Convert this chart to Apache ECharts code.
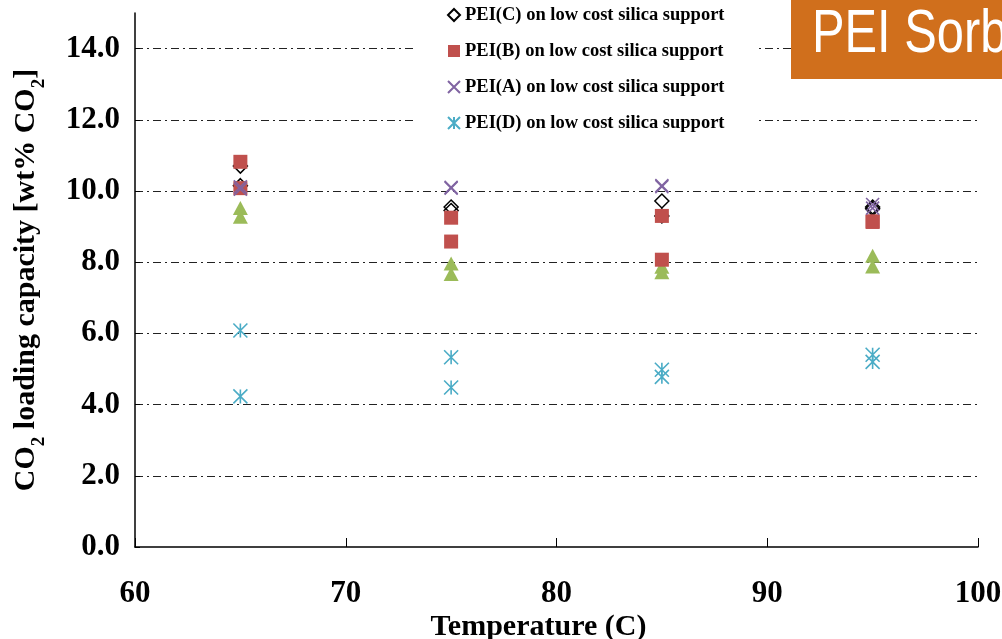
<!DOCTYPE html>
<html>
<head>
<meta charset="utf-8">
<script src="https://cdn.jsdelivr.net/npm/echarts@6/dist/echarts.min.js"></script>
<style>
html, body { margin: 0; padding: 0; background: #fff; }
#chart { width: 1002px; height: 639px; }
</style>
</head>
<body>
<div id="chart"></div>
<script>
// temperatures (C), two runs per temperature
var temps = [65, 65, 75, 75, 85, 85, 95, 95];

// CO2 loading capacity [wt% CO2]
var peiC = [10.7, 10.15, 9.55, 9.45, 9.72, 9.3, 9.55, 9.5];
var peiB = [10.82, 10.08, 9.25, 8.58, 9.3, 8.07, 9.15, 9.13];
var peiA = [10.12, 10.05, 10.1, 10.08, 10.15, 10.12, 9.62, 9.52];
var peiD = [6.08, 4.23, 5.33, 4.48, 4.98, 4.78, 5.4, 5.2];
var other = [9.52, 9.28, 7.96, 7.67, 7.87, 7.72, 8.18, 7.88];

var legendNames = [
    'PEI(C) on low cost silica support',
    'PEI(B) on low cost silica support',
    'PEI(A) on low cost silica support',
    'PEI(D) on low cost silica support'
];

var serif = '"Liberation Serif", "Times New Roman", serif';

function pairs(vals) {
    return vals.map(function (v, i) { return [temps[i], v]; });
}

var myChart = echarts.init(document.getElementById('chart'));

var option = {
    backgroundColor: '#fff',
    animation: false,
    grid: { left: 135, right: 24, top: 13, bottom: 92, outerBoundsMode: 'none' },
    legend: {
        data: legendNames,
        orient: 'vertical',
        left: 414,
        top: 0,
        padding: [5, 34, 10, 33],
        backgroundColor: '#fff',
        itemWidth: 12,
        itemHeight: 12,
        itemGap: 16,
        textStyle: { fontFamily: serif, fontWeight: 'bold', fontSize: 18.5, lineHeight: 20, color: '#000' }
    },
    xAxis: {
        type: 'value',
        min: 60,
        max: 100,
        interval: 10,
        name: 'Temperature (C)',
        nameLocation: 'middle',
        nameGap: 65,
        nameMoveOverlap: false,
        nameTextStyle: { fontFamily: serif, fontWeight: 'bold', fontSize: 30, color: '#000', padding: [0, 36, 0, 0] },
        axisLine: { lineStyle: { color: '#000', width: 1.5 } },
        axisTick: { inside: true, length: 9, lineStyle: { color: '#000' } },
        axisLabel: { fontFamily: serif, fontWeight: 'bold', fontSize: 31, color: '#000', margin: 31 },
        splitLine: { show: false }
    },
    yAxis: {
        type: 'value',
        min: 0,
        max: 15,
        interval: 2,
        name: '{n|CO}{s|2}{n| loading capacity [wt% CO}{s|2}{n|]}',
        nameLocation: 'middle',
        nameGap: 86,
        nameRotate: 90,
        nameMoveOverlap: false,
        nameTextStyle: {
            rich: {
                n: { fontFamily: serif, fontWeight: 'bold', fontSize: 30, color: '#000', lineHeight: 32, verticalAlign: 'top' },
                s: { fontFamily: serif, fontWeight: 'bold', fontSize: 19, color: '#000', lineHeight: 38, verticalAlign: 'bottom' }
            }
        },
        axisLine: { show: true, lineStyle: { color: '#000', width: 1.5 } },
        axisTick: { show: true, inside: true, length: 5, lineStyle: { color: '#000' } },
        axisLabel: {
            fontFamily: serif, fontWeight: 'bold', fontSize: 31, color: '#000', margin: 15,
            showMaxLabel: false,
            formatter: function (v) { return v % 2 === 0 ? v.toFixed(1) : ''; }
        },
        splitLine: {
            show: true,
            showMinLine: false,
            showMaxLine: false,
            lineStyle: { color: '#222', width: 1, type: [8, 4, 2, 4] }
        }
    },
    series: [{
        name: 'PEI(E)',
        type: 'scatter',
        data: pairs(other),
        symbol: 'triangle',
        symbolSize: [15, 14],
        itemStyle: { color: '#9BBB59', opacity: 1 }
    }, {
        name: legendNames[0],
        type: 'scatter',
        data: pairs(peiC),
        symbol: 'diamond',
        symbolSize: 14,
        itemStyle: { color: 'rgba(0,0,0,0)', borderColor: '#000', borderWidth: 1.5, opacity: 1 }
    }, {
        name: legendNames[1],
        type: 'scatter',
        data: pairs(peiB),
        symbol: 'rect',
        symbolSize: 14,
        itemStyle: { color: '#C0504D', opacity: 1 }
    }, {
        name: legendNames[2],
        type: 'scatter',
        data: pairs(peiA),
        symbol: 'path://M0,0L10,10M10,0L0,10',
        symbolSize: 13,
        itemStyle: { color: 'rgba(0,0,0,0)', borderColor: '#8064A2', borderWidth: 1.6, opacity: 1 }
    }, {
        name: legendNames[3],
        type: 'scatter',
        data: pairs(peiD),
        symbol: 'path://M0,0L10,10M10,0L0,10M5,0L5,10',
        symbolSize: 14,
        itemStyle: { color: 'rgba(0,0,0,0)', borderColor: '#4BACC6', borderWidth: 1.6, opacity: 1 }
    }],
    graphic: [{
        type: 'rect',
        left: 791,
        top: 0,
        z: 100,
        shape: { width: 211, height: 79 },
        style: { fill: '#D06F1C' }
    }, {
        type: 'text',
        x: 812,
        y: 5,
        scaleX: 0.8,
        z: 101,
        style: {
            text: 'PEI Sorbent',
            fill: '#fff',
            font: '61px "Liberation Sans", sans-serif'
        }
    }]
};

myChart.setOption(option);
</script>
</body>
</html>
